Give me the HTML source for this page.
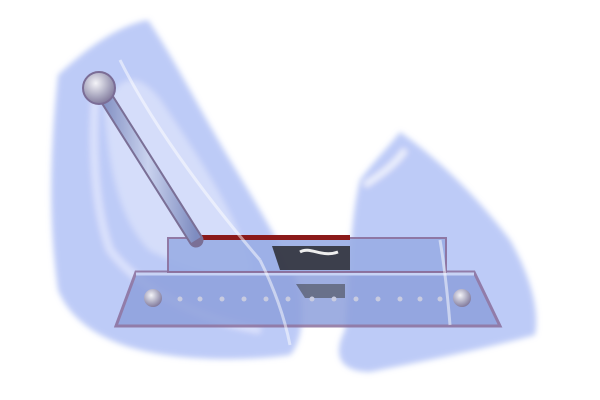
<!DOCTYPE html>
<html><head><meta charset="utf-8"><style>
html,body{margin:0;padding:0;background:#fff;width:600px;height:400px;overflow:hidden}
</style></head><body>
<svg width="600" height="400" viewBox="0 0 600 400" xmlns="http://www.w3.org/2000/svg">
<defs>
<filter id="blur" x="-10%" y="-10%" width="120%" height="120%"><feGaussianBlur stdDeviation="3"/></filter>
<linearGradient id="rod" x1="0" y1="0" x2="1" y2="0"><stop offset="0" stop-color="#7e8cc0"/><stop offset="0.5" stop-color="#c9d2ee"/><stop offset="1" stop-color="#7e8cc0"/></linearGradient>
<radialGradient id="ball" cx="0.4" cy="0.35" r="0.7"><stop offset="0" stop-color="#f4f4f8"/><stop offset="0.6" stop-color="#a9a7bf"/><stop offset="1" stop-color="#7d7497"/></radialGradient>
</defs>
<g filter="url(#blur)">
<path d="M58,75 C90,45 120,25 148,20 C175,60 200,110 230,160 C260,210 285,250 300,290 C305,320 300,345 290,355 C240,362 180,360 140,350 C100,340 70,320 58,290 C48,220 50,150 58,75 Z" fill="#7d98f0" opacity="0.5"/>
<path d="M105,110 C110,170 120,220 150,250 C190,270 230,280 250,270 C240,220 200,160 160,100 C140,75 120,70 105,110 Z" fill="#ffffff" opacity="0.35"/>
<path d="M95,100 C92,150 95,210 110,250 C140,290 200,320 260,330" fill="none" stroke="#e9eeff" stroke-width="6" opacity="0.7"/>
</g>
<g filter="url(#blur)">
<path d="M400,132 C440,160 480,200 510,240 C530,275 540,310 535,335 C480,350 420,362 370,372 C345,372 330,360 345,330 C350,270 350,220 360,180 C375,160 390,145 400,132 Z" fill="#7d98f0" opacity="0.5"/>
<path d="M365,185 C380,175 395,165 405,150" fill="none" stroke="#ffffff" stroke-width="5" opacity="0.8"/>
</g>
<g>
<path d="M136,272 L474,272 L500,326 L116,326 Z" fill="#8ea0dc" stroke="#8a6f9c" stroke-width="3" opacity="0.85"/>
<line x1="136" y1="274" x2="474" y2="274" stroke="#c8d3f5" stroke-width="3"/>
</g>
<g>
<rect x="168" y="238" width="278" height="34" fill="#9aaee6" stroke="#8a6f9c" stroke-width="2" opacity="0.9"/>
<rect x="200" y="235" width="150" height="5" fill="#8b1a1a"/>
<path d="M272,246 L350,246 L350,270 L280,270 Z" fill="#2a2a30" opacity="0.85"/>
<path d="M300,252 C310,246 322,258 338,252" stroke="#eee" stroke-width="3" fill="none"/>
<path d="M296,284 L345,284 L345,298 L305,298 Z" fill="#333" opacity="0.5"/>
</g>
<g fill="#c8cbe0">
<circle cx="180" cy="299" r="2.5"/><circle cx="200" cy="299" r="2.5"/><circle cx="222" cy="299" r="2.5"/><circle cx="244" cy="299" r="2.5"/><circle cx="266" cy="299" r="2.5"/><circle cx="288" cy="299" r="2.5"/><circle cx="312" cy="299" r="2.5"/><circle cx="334" cy="299" r="2.5"/><circle cx="356" cy="299" r="2.5"/><circle cx="378" cy="299" r="2.5"/><circle cx="400" cy="299" r="2.5"/><circle cx="420" cy="299" r="2.5"/><circle cx="440" cy="299" r="2.5"/>
</g>
<circle cx="153" cy="298" r="9" fill="url(#ball)"/>
<circle cx="462" cy="298" r="9" fill="url(#ball)"/>
<g>
<line x1="100" y1="88" x2="196" y2="240" stroke="#7a6f96" stroke-width="15" stroke-linecap="round"/>
<line x1="100" y1="88" x2="196" y2="240" stroke="url(#rod)" stroke-width="11"/>
<circle cx="99" cy="88" r="16" fill="url(#ball)" stroke="#7b6d96" stroke-width="2"/>
</g>
<g opacity="0.5">
<path d="M120,60 C150,120 200,190 260,260" stroke="#fff" stroke-width="3" fill="none"/>
<path d="M260,260 C275,290 285,320 290,345" stroke="#fff" stroke-width="3" fill="none"/>
<path d="M440,240 C445,270 448,300 450,325" stroke="#fff" stroke-width="3" fill="none"/>
</g>
</svg>
</body></html>
